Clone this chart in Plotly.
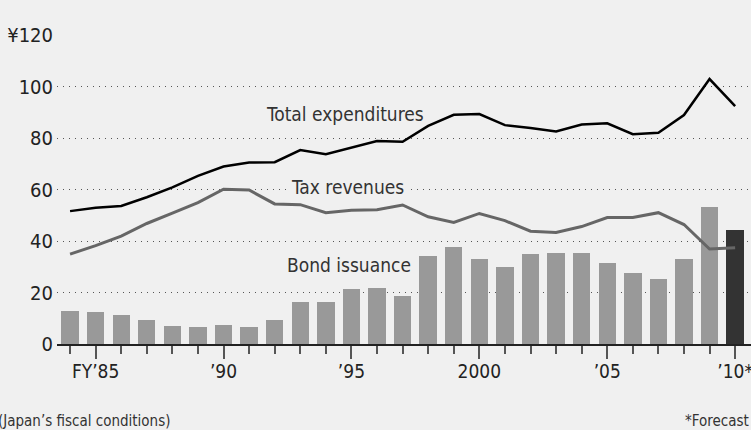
import plotly.graph_objects as go

years = list(range(1984, 2011))
total_expenditures = [51.6, 52.9, 53.6, 57.0, 60.8, 65.3, 68.9, 70.5, 70.6, 75.3, 73.7, 76.4, 78.8, 78.5,
                      84.7, 89.0, 89.3, 85.0, 83.9, 82.5, 85.2, 85.7, 81.5, 82.0, 88.9, 102.9, 92.4]
tax_revenues = [34.9, 38.2, 41.9, 46.8, 50.8, 54.9, 60.1, 59.8, 54.4, 54.1, 51.0, 51.9, 52.1, 54.0,
                49.4, 47.2, 50.7, 47.9, 43.8, 43.3, 45.6, 49.1, 49.1, 51.0, 46.4, 36.9, 37.4]
bond_issuance = [12.8, 12.3, 11.3, 9.4, 7.1, 6.6, 7.3, 6.7, 9.5, 16.2, 16.5, 21.2, 21.7, 18.5,
                 34.0, 37.5, 33.0, 30.0, 35.0, 35.3, 35.4, 31.3, 27.5, 25.4, 33.2, 53.3, 44.3]
x_tickvals = [1985, 1990, 1995, 2000, 2005, 2010]
x_ticktext = ["FY’85", "’90", "’95", "2000", "’05", "’10*"]
y_tickvals = [0, 20, 40, 60, 80, 100, 120]
y_ticktext = ["0", "20", "40", "60", "80", "100", "¥120"]

FONT = "DejaVu Sans Condensed, Liberation Sans Narrow, Roboto, sans-serif"
bar_colors = ["#999999"] * (len(years) - 1) + ["#333333"]

fig = go.Figure()
fig.add_trace(go.Bar(x=years, y=bond_issuance, width=0.68, marker=dict(color=bar_colors, line=dict(width=0)),
                     showlegend=False, hoverinfo="skip"))
fig.add_trace(go.Scatter(x=years, y=tax_revenues, mode="lines", line=dict(color="#666666", width=3),
                         showlegend=False))
fig.add_trace(go.Scatter(x=years, y=total_expenditures, mode="lines", line=dict(color="#000000", width=2.5),
                         showlegend=False))

fig.update_layout(
    width=751, height=430,
    margin=dict(l=57, r=0, t=35, b=86, autoexpand=False),
    paper_bgcolor="#f0f0f0", plot_bgcolor="#f0f0f0",
    font=dict(family=FONT, color="#333333"),
    bargap=0,
)
fig.update_xaxes(
    range=[1983.49, 2010.62], tickvals=x_tickvals, ticktext=x_ticktext,
    ticks="outside", ticklen=13, tickwidth=2, tickcolor="#555555",
    minor=dict(tickvals=years, ticks="outside", ticklen=8, tickwidth=2, tickcolor="#555555", showgrid=False),
    showgrid=False, zeroline=False, showline=True, linecolor="#222222", linewidth=2,
    tickfont=dict(size=19, color="#222222"), automargin=False,
    ticklabeloverflow="allow", ticklabelstandoff=-4,
)
fig.update_yaxes(
    range=[0, 120], tickvals=y_tickvals, ticktext=y_ticktext, ticks="",
    showgrid=True, gridcolor="#555555", gridwidth=1.2, griddash="1px,5px",
    zeroline=False, showline=False, ticklabelstandoff=3,
    tickfont=dict(size=20, color="#222222"), automargin=False,
)

fig.add_annotation(x=1994.75, y=89.3, xref="x", yref="y", text="Total expenditures", showarrow=False,
                   font=dict(size=19, color="#333333"))
fig.add_annotation(x=1994.83, y=61.0, xref="x", yref="y", text="Tax revenues", showarrow=False,
                   font=dict(size=19, color="#333333"), bgcolor="#f0f0f0", borderpad=3)
fig.add_annotation(x=1994.9, y=30.7, xref="x", yref="y", text="Bond issuance", showarrow=False,
                   font=dict(size=19, color="#333333"))
fig.add_annotation(x=-61 / 694, xanchor="left", y=-(421 - 344) / 309, yanchor="middle",
                   xref="paper", yref="paper", text="(Japan’s fiscal conditions)", showarrow=False,
                   font=dict(size=15, color="#333333"))
fig.add_annotation(x=1, xanchor="right", y=-(421 - 344) / 309, yanchor="middle",
                   xref="paper", yref="paper", text="*Forecast", showarrow=False,
                   font=dict(size=15, color="#333333"))

fig.write_html("out.html")
